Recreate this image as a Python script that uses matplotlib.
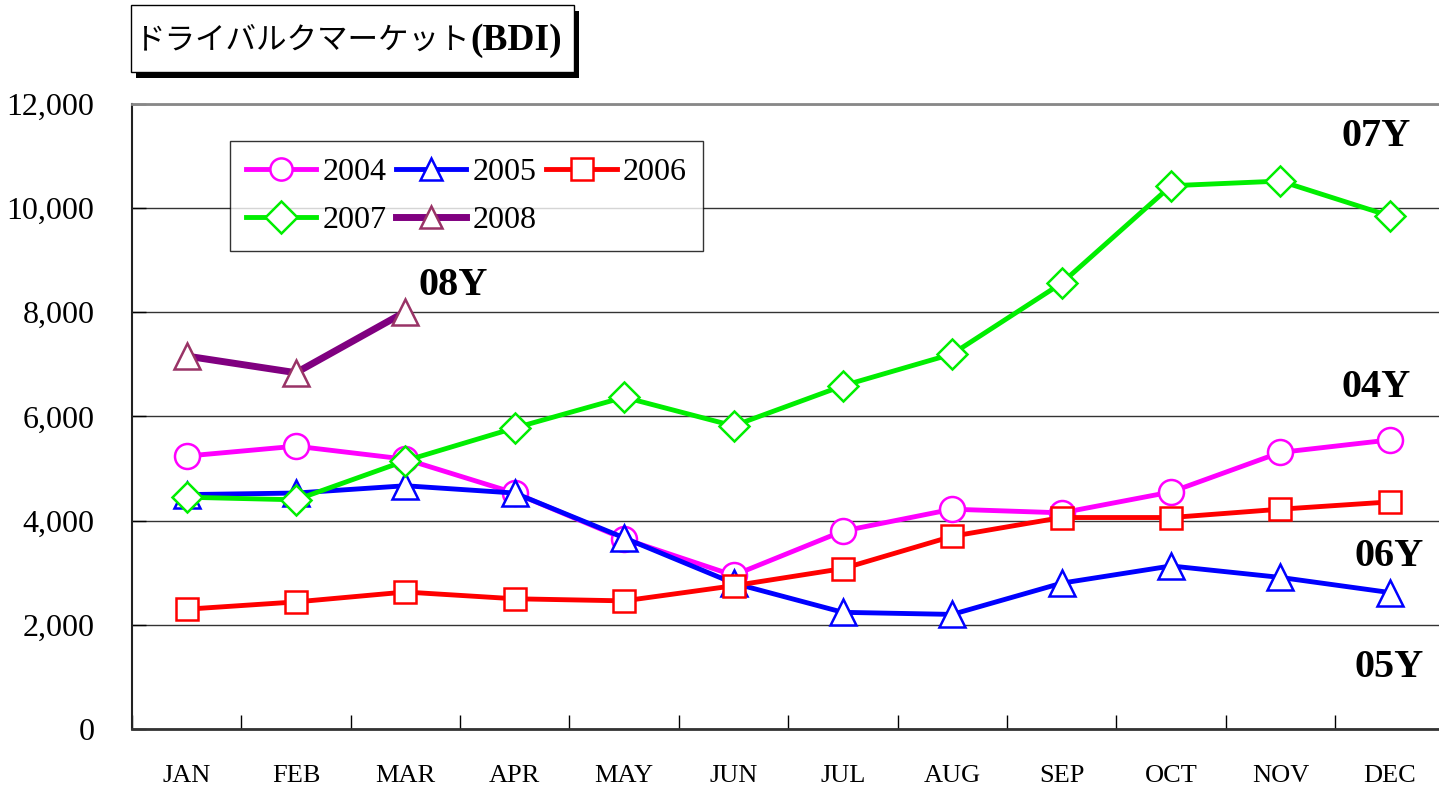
import matplotlib
matplotlib.use("Agg")
import matplotlib.pyplot as plt
from matplotlib.patches import Rectangle
from matplotlib.ticker import FuncFormatter, FixedLocator

months = ["JAN", "FEB", "MAR", "APR", "MAY", "JUN",
          "JUL", "AUG", "SEP", "OCT", "NOV", "DEC"]
bdi_2004 = [5240, 5430, 5180, 4530, 3650, 2950, 3800, 4220, 4150, 4550, 5310, 5550]
bdi_2005 = [4500, 4530, 4670, 4530, 3670, 2800, 2240, 2200, 2800, 3130, 2910, 2620]
bdi_2006 = [2300, 2440, 2630, 2500, 2460, 2750, 3080, 3700, 4060, 4060, 4220, 4360]
bdi_2007 = [4450, 4400, 5150, 5780, 6370, 5820, 6590, 7200, 8560, 10430, 10520, 9850]
bdi_2008 = [7160, 6840, 8010]

SERIF = "Liberation Serif"
W, H = 1439, 787

fig = plt.figure(figsize=(W / 100, H / 100), dpi=100)
ax = fig.add_axes([0.0917, 0.0737, 0.9083, 0.7942])

x = list(range(12))
common = dict(markerfacecolor="white", markeredgewidth=1.8, lw=3.5, clip_on=False)
l04, = ax.plot(x, bdi_2004, color="#ff00ff", marker="o", ms=18, markeredgecolor="#ff00ff", label="2004", **common)
l05, = ax.plot(x, bdi_2005, color="#0000ff", marker="^", ms=19, markeredgecolor="#0000ff", label="2005", **common)
l06, = ax.plot(x, bdi_2006, color="#ff0000", marker="s", ms=16, markeredgecolor="#ff0000", label="2006", **common)
l07, = ax.plot(x, bdi_2007, color="#00ee00", marker="D", ms=15, markeredgecolor="#00ee00", label="2007", **common)
l08, = ax.plot(x[:3], bdi_2008, color="#800080", marker="^", ms=19, markeredgecolor="#993366",
               markerfacecolor="white", markeredgewidth=1.8, lw=5, label="2008")

ax.set_xlim(-0.5, 11.45)
ax.set_ylim(0, 12000)
ax.set_yticks(range(0, 12001, 2000))
ax.yaxis.set_major_formatter(FuncFormatter(lambda v, p: f"{int(v):,}"))
ax.xaxis.set_major_locator(FixedLocator([i + 0.5 for i in range(-1, 12)]))
ax.xaxis.set_minor_locator(FixedLocator(x))
ax.set_xticklabels([])
ax.set_xticklabels(months, minor=True)
ax.tick_params(axis="x", which="major", direction="in", length=10, width=1, color="black")
ax.tick_params(axis="x", which="minor", length=0, pad=26, labelsize=19)
ax.tick_params(axis="y", direction="in", length=10, width=1, pad=27, labelsize=23)
for lab in ax.get_xticklabels(minor=True) + ax.get_yticklabels():
    lab.set_fontfamily(SERIF)

ax.grid(axis="y", color="#333333", lw=1)
ax.set_axisbelow(True)
ax.spines["right"].set_visible(False)
ax.spines["top"].set_color("#888888")
ax.spines["top"].set_linewidth(2)
ax.spines["left"].set_color("#222222")
ax.spines["left"].set_linewidth(1.5)
ax.spines["bottom"].set_color("#333333")
ax.spines["bottom"].set_linewidth(2)

# year labels
lab_kw = dict(fontsize=29, fontweight="bold", fontfamily=SERIF, ha="left", va="center")
ax.text(10.56, 11370, "07Y", **lab_kw)
ax.text(10.56, 6550, "04Y", **lab_kw)
ax.text(10.68, 3320, "06Y", **lab_kw)
ax.text(10.68, 1190, "05Y", **lab_kw)
ax.text(2.12, 8520, "08Y", **lab_kw)

# row-major legend order: 2004 2005 2006 / 2007 2008
handles = [l04, l07, l05, l08, l06]
leg = ax.legend(handles, [h.get_label() for h in handles], ncol=3, loc="upper left",
                bbox_to_anchor=(0.075, 0.94), borderaxespad=0,
                prop={"family": SERIF, "size": 23}, frameon=True, fancybox=False,
                edgecolor="black", handlelength=2.2, handletextpad=0.2,
                columnspacing=0.3, borderpad=0.5, labelspacing=0.58)
leg.get_frame().set_linewidth(1)
for h in leg.legend_handles:
    h.set_markersize(16)

# title box with shadow
fig.patches.append(Rectangle((136 / W, 1 - 78 / H), 443 / W, 67 / H,
                             transform=fig.transFigure, facecolor="black", edgecolor="none"))
fig.patches.append(Rectangle((131 / W, 1 - 72 / H), 443 / W, 67 / H,
                             transform=fig.transFigure, facecolor="white", edgecolor="black", lw=1))
t1 = fig.text(135 / W, 1 - 40 / H, "ドライバルクマーケット", fontsize=22,
              fontfamily="Noto Sans CJK JP", va="center", ha="left", zorder=5)
fig.canvas.draw()
bb = t1.get_window_extent()
fig.text(bb.x1 / W, 1 - 40 / H, "(BDI)", fontsize=27, fontweight="bold",
         fontfamily=SERIF, va="center", ha="left", zorder=5)

fig.savefig("out.png", dpi=100)
